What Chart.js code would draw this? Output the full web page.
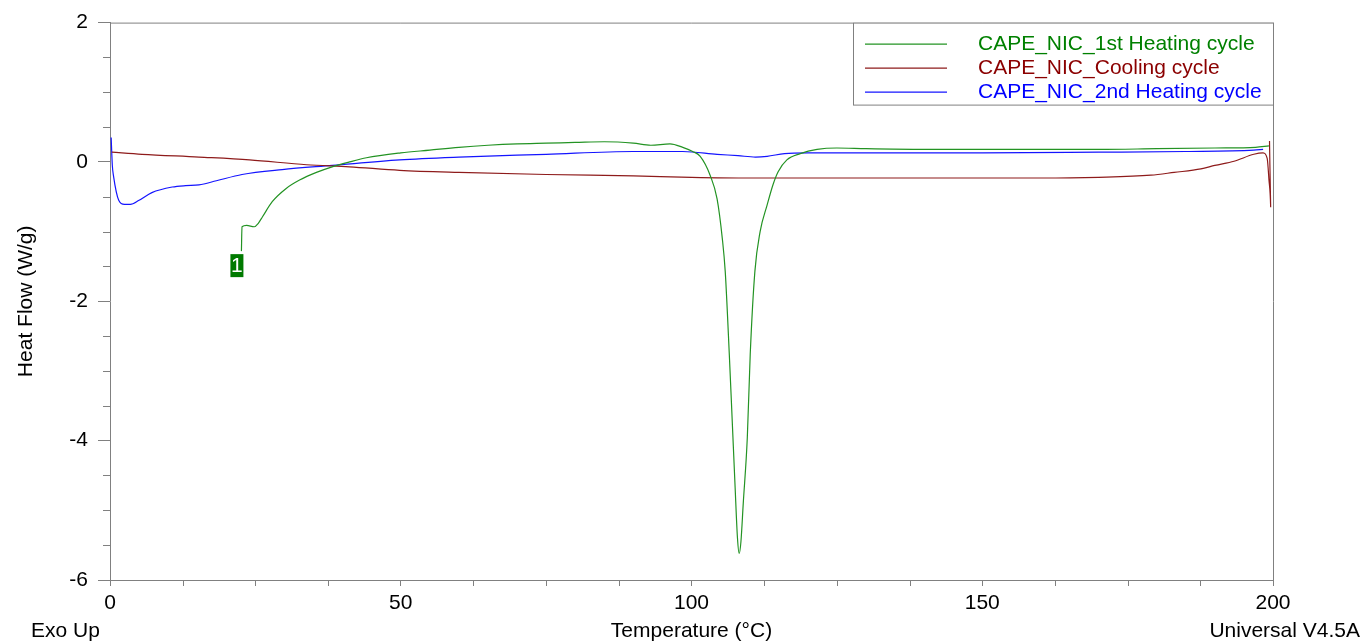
<!DOCTYPE html>
<html>
<head>
<meta charset="utf-8">
<script src="https://cdn.jsdelivr.net/npm/chart.js@4"></script>
<style>
  html, body { margin: 0; padding: 0; background: #fff; }
  #wrap { width: 1362px; height: 644px; }
</style>
</head>
<body>
<div id="wrap"><canvas id="dscChart" width="1362" height="644"></canvas></div>
<script>
// DSC curves (temperature in °C, heat flow in W/g)
const heat1Temp = [22.6, 22.7, 23.5, 24.8, 25.5, 26.2, 27.9, 30.3, 32.6, 35.5, 38.2, 41.2, 44.1, 50, 55, 60, 65, 70, 75, 80, 85, 90, 93, 96.3, 98.5, 100.2, 101.5, 103.2, 104.4, 105.3, 105.8, 106.5, 107.0, 107.5, 107.9, 108.2, 108.5, 108.9, 109.6, 110.1, 110.9, 111.8, 113.0, 114.0, 114.9, 116.4, 118.7, 121.6, 125, 130, 140, 150, 160, 170, 180, 190, 197, 199.3];
const heat1Flow = [-1.28, -0.93, -0.91, -0.93, -0.88, -0.79, -0.57, -0.38, -0.26, -0.15, -0.07, 0.0, 0.06, 0.13, 0.17, 0.21, 0.24, 0.26, 0.27, 0.28, 0.29, 0.27, 0.24, 0.26, 0.21, 0.15, 0.08, -0.19, -0.53, -1.1, -1.57, -2.76, -3.71, -4.67, -5.39, -5.62, -5.45, -4.9, -3.95, -2.76, -1.57, -1.0, -0.62, -0.33, -0.14, 0.03, 0.12, 0.18, 0.2, 0.19, 0.18, 0.18, 0.18, 0.18, 0.19, 0.2, 0.21, 0.23];

const coolTemp = [199.4, 199.6, 199.3, 199.0, 198.3, 196.7, 193.3, 190, 187.6, 183, 179, 170, 160, 150, 125, 110, 100, 90, 75, 60, 49.8, 41.2, 33.8, 24, 15.3, 5.5, 0.3];
const coolFlow = [0.3, -0.65, -0.25, 0.05, 0.13, 0.11, 0.01, -0.05, -0.1, -0.15, -0.19, -0.22, -0.23, -0.23, -0.23, -0.23, -0.22, -0.2, -0.18, -0.15, -0.12, -0.07, -0.04, 0.03, 0.07, 0.11, 0.14];

const heat2Temp = [0.2, 0.4, 0.6, 1.5, 2.5, 3.5, 5, 7.2, 10.7, 13, 15.3, 18.3, 22.7, 29.6, 38.2, 49.8, 60, 75, 90, 95, 98.5, 104.4, 108, 111, 113, 116, 120, 130, 150, 170, 185, 196.7, 198.3];
const heat2Flow = [0.35, -0.05, -0.2, -0.55, -0.61, -0.61, -0.55, -0.44, -0.36, -0.34, -0.33, -0.27, -0.18, -0.11, -0.05, 0.03, 0.07, 0.11, 0.15, 0.15, 0.15, 0.11, 0.09, 0.07, 0.08, 0.12, 0.13, 0.13, 0.13, 0.14, 0.15, 0.17, 0.18];

const seriesNames = ['CAPE_NIC_1st Heating cycle', 'CAPE_NIC_Cooling cycle', 'CAPE_NIC_2nd Heating cycle'];
const lineColors = ['#239323', '#8e1b1b', '#1414ff'];
const textColors = ['#008000', '#8b0000', '#0000ff'];

const xTicks = [0, 50, 100, 150, 200];
const yTicks = [-6, -4, -2, 0, 2];

const FONT = "'Liberation Sans', Arial, sans-serif";
const FRAME = '#808080';

Chart.defaults.font.family = FONT;
Chart.defaults.font.size = 21;
Chart.defaults.color = '#000';

function toPoints(xs, ys) {
    return xs.map((x, i) => ({ x: x, y: ys[i] }));
}

// frame, minor ticks, legend box, label "1" and axis texts
const decorPlugin = {
    id: 'decor',
    afterDraw(chart) {
        const ctx = chart.ctx;
        const area = chart.chartArea;
        const xs = chart.scales.x;
        const ys = chart.scales.y;
        ctx.save();

        // plot frame (top and right)
        ctx.strokeStyle = FRAME;
        ctx.lineWidth = 1;
        ctx.beginPath();
        ctx.moveTo(area.left, area.top + 0.5);
        ctx.lineTo(area.right + 0.5, area.top + 0.5);
        ctx.lineTo(area.right + 0.5, area.bottom);
        ctx.stroke();

        // minor ticks
        ctx.beginPath();
        for (let v = -6; v <= 2; v += 0.5) {
            if (v % 2 === 0) continue;
            const py = Math.round(ys.getPixelForValue(v)) + 0.5;
            ctx.moveTo(area.left - 7, py);
            ctx.lineTo(area.left, py);
        }
        for (let v = 0; v <= 200; v += 12.5) {
            if (v % 50 === 0) continue;
            const px = Math.round(xs.getPixelForValue(v)) + 0.5;
            ctx.moveTo(px, area.bottom);
            ctx.lineTo(px, area.bottom + 6);
        }
        ctx.stroke();

        // legend box
        const lx = 853, ly = area.top, lh = 82;
        ctx.fillStyle = '#fff';
        ctx.fillRect(lx, ly, area.right - lx, lh);
        ctx.strokeStyle = FRAME;
        ctx.strokeRect(lx + 0.5, ly + 0.5, area.right - lx, lh);
        ctx.font = '21px ' + FONT;
        ctx.textBaseline = 'middle';
        ctx.textAlign = 'left';
        seriesNames.forEach((name, i) => {
            const yy = ly + 21 + i * 24;
            ctx.strokeStyle = lineColors[i];
            ctx.lineWidth = 1.2;
            ctx.beginPath();
            ctx.moveTo(865, yy + 0.5);
            ctx.lineTo(947, yy + 0.5);
            ctx.stroke();
            ctx.fillStyle = textColors[i];
            ctx.fillText(name, 978, yy + 1);
        });

        // label "1" at start of first heating curve
        const sx = xs.getPixelForValue(heat1Temp[0]);
        const sy = ys.getPixelForValue(heat1Flow[0]);
        ctx.fillStyle = '#007a00';
        ctx.fillRect(sx - 11, sy + 3, 13, 23);
        ctx.fillStyle = '#fff';
        ctx.textAlign = 'center';
        ctx.fillText('1', sx - 4.5, sy + 15);

        // axis texts
        ctx.fillStyle = '#000';
        ctx.textBaseline = 'alphabetic';
        ctx.textAlign = 'left';
        ctx.fillText('Exo Up', 31, 637);
        ctx.textAlign = 'center';
        ctx.fillText('Temperature (°C)', (area.left + area.right) / 2, 637);
        ctx.textAlign = 'right';
        ctx.fillText('Universal V4.5A', 1360, 637);

        ctx.translate(32, (area.top + area.bottom) / 2);
        ctx.rotate(-Math.PI / 2);
        ctx.textAlign = 'center';
        ctx.fillText('Heat Flow (W/g)', 0, 0);
        ctx.restore();
    }
};

const ctx = document.getElementById('dscChart');

new Chart(ctx, {
    type: 'line',
    data: {
        datasets: [
            { label: seriesNames[0], data: toPoints(heat1Temp, heat1Flow) },
            { label: seriesNames[1], data: toPoints(coolTemp, coolFlow) },
            { label: seriesNames[2], data: toPoints(heat2Temp, heat2Flow) }
        ].map((ds, i) => Object.assign(ds, {
            borderColor: lineColors[i],
            borderWidth: 1.2,
            pointRadius: 0,
            fill: false,
            cubicInterpolationMode: 'monotone'
        }))
    },
    options: {
        responsive: false,
        animation: false,
        layout: {
            padding: { top: 20, right: 89, left: 0, bottom: 0 }
        },
        plugins: {
            legend: { display: false },
            tooltip: { enabled: false }
        },
        scales: {
            x: {
                type: 'linear',
                min: 0,
                max: 200,
                afterFit: (s) => { s.height = 64; },
                afterBuildTicks: (s) => { s.ticks = xTicks.map(v => ({ value: v })); },
                grid: { drawOnChartArea: false, tickLength: 6, tickColor: FRAME },
                border: { color: FRAME },
                ticks: { padding: 5, maxRotation: 0 }
            },
            y: {
                type: 'linear',
                min: -6,
                max: 2,
                afterFit: (s) => { s.width = 110; },
                afterBuildTicks: (s) => { s.ticks = yTicks.map(v => ({ value: v })); },
                grid: { drawOnChartArea: false, tickLength: 12, tickColor: FRAME },
                border: { color: FRAME },
                ticks: { padding: 10 }
            }
        }
    },
    plugins: [decorPlugin]
});
</script>
</body>
</html>
